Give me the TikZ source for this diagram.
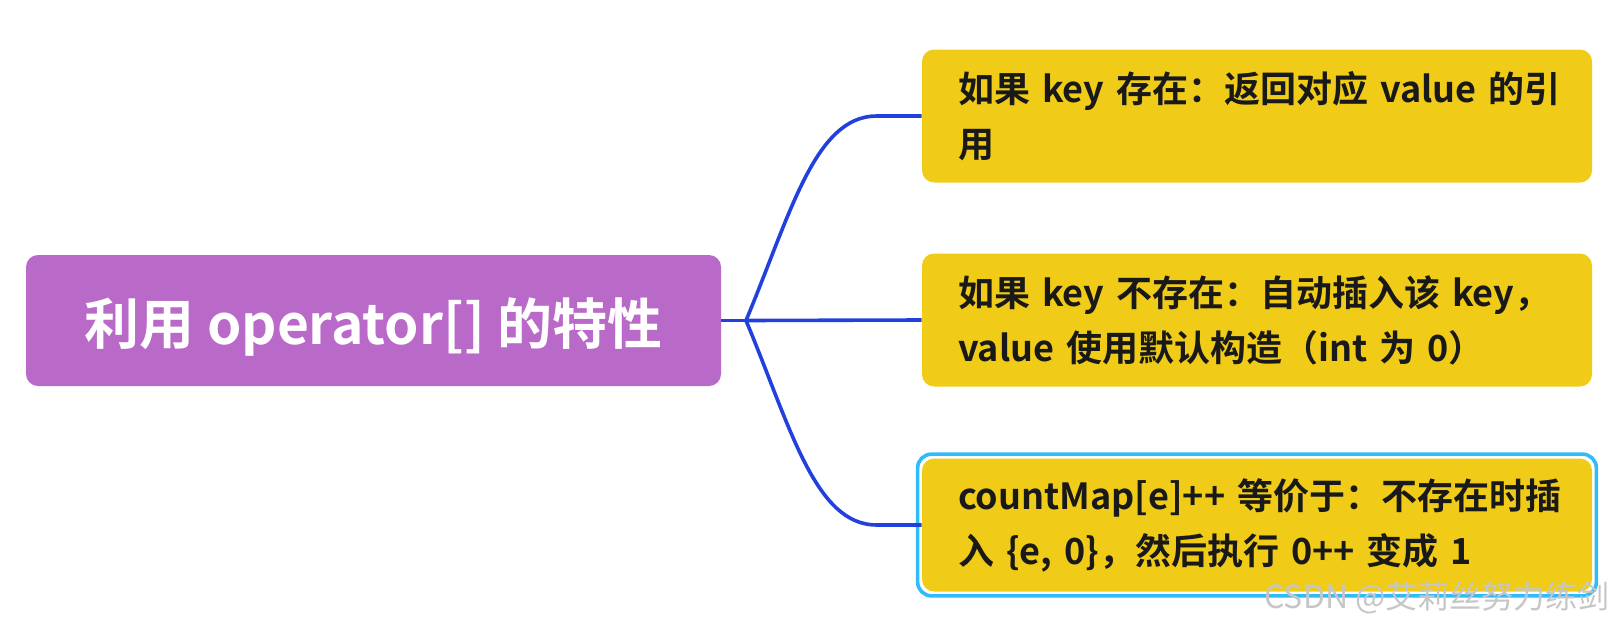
\documentclass[tikz,border=0pt]{standalone}
\usepackage{fontspec}
\setmainfont{Noto Sans CJK SC}[BoldFont={Noto Sans CJK SC Bold}]
\usetikzlibrary{positioning, calc}
\definecolor{rootpurple}{RGB}{185,106,200}
\definecolor{leafyellow}{RGB}{240,204,24}
\definecolor{linkblue}{RGB}{34,64,221}
\definecolor{pickblue}{RGB}{48,188,250}

\begin{document}
\begin{tikzpicture}[x=0.5pt, y=-0.5pt,
  rootbox/.style={fill=rootpurple, rounded corners=6pt, minimum width=347.5pt, minimum height=65.5pt, text height=28pt, text depth=4pt, text=white, font=\fontsize{27.5pt}{32pt}\selectfont\bfseries},
  leafbox/.style={fill=leafyellow, rounded corners=6pt, minimum width=335pt, minimum height=66.5pt, text width=299pt, inner xsep=18pt, inner ysep=0pt, align=left, text=black!90, font=\fontsize{18pt}{22.5pt}\selectfont\bfseries, execute at begin node={\vspace*{5pt}}},
  branch/.style={draw=linkblue, line width=1.8pt},
  pickframe/.style={draw=pickblue, line width=1.8pt, rounded corners=7pt},
  wmtext/.style={text=gray!45, font=\fontsize{16pt}{18pt}\selectfont}]
\useasboundingbox (0,0) rectangle (1616,632);

% root and the three leaves
\node[rootbox] (root) at (373.5,320.5) {利用 operator[] 的特性};
\node[leafbox] (leaf1) at (1257,116) {如果~key~存在：返回对应~value~的引\\用};
\node[leafbox] (leaf2) at (1257,320) {如果~key~不存在：自动插入该~key，\\value~使用默认构造（int~为~0）};
\node[leafbox] (leaf3) at (1257,525) {countMap[e]++~等价于：不存在时插\\入~\{e,~0\}，然后执行~0++~变成~1};
\draw[pickframe] ($(leaf3.north west)+(-4,-4)$) rectangle ($(leaf3.south east)+(4,4)$);

% connectors
\coordinate (fork) at (746,320.5);
\draw[branch] (root.east) -- (fork);
\draw[branch] (fork) .. controls +(44,-105) and +(-62,0) .. ($(leaf1.west)+(-45,0)$) -- (leaf1.west);
\draw[branch] (fork) -- (leaf2.west);
\draw[branch] (fork) .. controls +(44,105) and +(-62,0) .. ($(leaf3.west)+(-45,0)$) -- (leaf3.west);

\node[wmtext] (wm) at (1437,598) {CSDN @艾莉丝努力练剑};
\end{tikzpicture}
\end{document}
